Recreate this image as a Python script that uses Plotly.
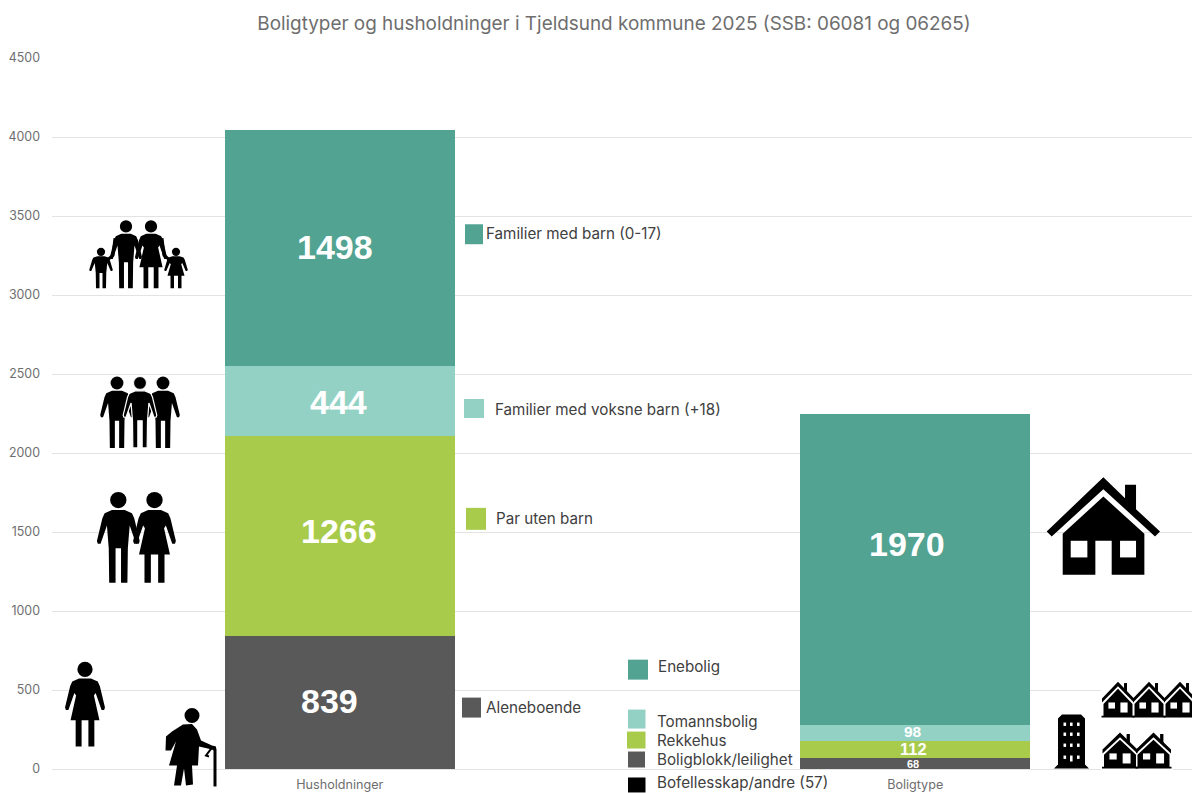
import plotly.graph_objects as go

# ---- data ----
stack_categories = ["Husholdninger", "Boligtype"]
household_names = ["Aleneboende", "Par uten barn", "Familier med voksne barn (+18)", "Familier med barn (0-17)"]
household_values = [839, 1266, 444, 1498]
housing_names = ["Boligblokk/leilighet", "Rekkehus", "Tomannsbolig", "Enebolig"]
housing_values = [68, 112, 98, 1970]
segment_colors = ["#595959", "#A9CB4C", "#93D1C5", "#52A392"]
other_label = "Bofellesskap/andre (57)"
title_text = "Boligtyper og husholdninger i Tjeldsund kommune 2025 (SSB: 06081 og 06265)"

W, H = 1192, 793
L, R, T, B = 52, 0, 57.5, 23.5
FONT = "Inter"
GREY = "#6E6E6E"
TXT = "#404040"

def px(x): return (x - L) / (W - L - R)
def py(y): return (H - B - y) / (H - T - B)

shapes = []
annos = []

def poly(pts, fill="black", line=None, lw=0, close=True):
    d = "M " + " L ".join(f"{px(x):.5f},{py(y):.5f}" for x, y in pts) + (" Z" if close else "")
    shapes.append(dict(type="path", xref="paper", yref="paper", path=d, layer="above",
                       fillcolor=fill if close else "rgba(0,0,0,0)",
                       line=dict(color=line or fill, width=lw)))

def rect(x0, y0, x1, y1, fill="black"):
    shapes.append(dict(type="rect", xref="paper", yref="paper", layer="above",
                       x0=px(x0), x1=px(x1), y0=py(y1), y1=py(y0), fillcolor=fill, line=dict(width=0)))

def circle(cx, cy, r, fill="black", outline=None):
    shapes.append(dict(type="circle", xref="paper", yref="paper", layer="above",
                       x0=px(cx - r), x1=px(cx + r), y0=py(cy + r), y1=py(cy - r), fillcolor=fill,
                       line=dict(width=1 if outline else 0, color=outline or fill)))

MAN = [(-.07, .2), (.07, .2), (.15, .235), (.175, .29), (.235, .54), (.225, .57), (.195, .57), (.125, .37),
       (.105, .62), (.10, 1), (.03, 1), (.03, .62), (-.03, .62), (-.03, 1), (-.10, 1), (-.105, .62),
       (-.125, .37), (-.195, .57), (-.225, .57), (-.235, .54), (-.175, .29), (-.15, .235)]
WOMAN = [(-.07, .2), (.07, .2), (.15, .235), (.175, .29), (.235, .54), (.225, .57), (.195, .57), (.125, .37),
         (.105, .40), (.17, .69), (.11, .69), (.11, 1), (.04, 1), (.04, .69), (-.04, .69), (-.04, 1), (-.11, 1),
         (-.11, .69), (-.17, .69), (-.105, .40), (-.125, .37), (-.195, .57), (-.225, .57), (-.235, .54),
         (-.175, .29), (-.15, .235)]

def person(kind, cx, top, h, outline=None, wx=1.0):
    pts = [(cx + a * h * wx, top + b * h) for a, b in (MAN if kind == "m" else WOMAN)]
    poly(pts, line=outline, lw=1.2 if outline else 0)
    circle(cx, top + .09 * h, .09 * h * 1.15 if wx > 1 else .09 * h, outline=outline)

HOUSE_ROOF = [(50, 215), (220, 52), (285, 115), (285, 75), (318, 75), (318, 148), (390, 215), (375, 230), (220, 88), (65, 230)]
HOUSE_BODY = [(220, 110), (343, 222), (343, 345), (245, 345), (245, 243), (196, 243), (196, 345), (98, 345), (98, 222)]
WINDOWS = [(122, 243, 172, 293), (270, 243, 318, 293)]

def house(x0, y0, sx, sy):
    f = lambda a, b: (x0 + (a - 50) * sx, y0 + (b - 52) * sy)
    poly([f(a, b) for a, b in HOUSE_ROOF])
    poly([f(a, b) for a, b in HOUSE_BODY])
    for a, b, c, d in WINDOWS:
        p, q = f(a, b), f(c, d)
        rect(p[0], p[1], q[0], q[1], "white")

def terrace_unit(x0, w, top, h):
    """small attached house: heavy roof, chimney, filled body, little window and door"""
    c = x0 + w / 2
    poly([(x0 - 1, top + .47 * h), (c, top), (x0 + w + 1, top + .47 * h), (x0 + w + 1, top + .58 * h),
          (c, top + .13 * h), (x0 - 1, top + .58 * h)])
    rect(x0 + .70 * w, top + .04 * h, x0 + .80 * w, top + .3 * h)
    poly([(c, top + .2 * h), (x0 + w - .5, top + .62 * h), (x0 + w - .5, top + .97 * h), (x0 + .5, top + .97 * h),
          (x0 + .5, top + .62 * h)])
    rect(x0 - 1.5, top + .95 * h, x0 + w + 1.5, top + h)
    rect(x0 + .18 * w, top + .58 * h, x0 + .40 * w, top + .75 * h, "white")
    rect(x0 + .58 * w, top + .58 * h, x0 + .82 * w, top + .86 * h, "white")

# ---- icons ----
# family
person("m", 126, 220, 68); person("w", 151, 220, 68)
person("m", 101, 248, 40, wx=1.25); person("w", 176, 248, 40, wx=1.25)
poly([(115, 238), (113, 255), (105, 262)], close=False, lw=3)
poly([(162, 238), (164, 255), (172, 262)], close=False, lw=3)
# three adults
person("m", 117, 376.5, 71.5); person("m", 163, 376.5, 71.5)
person("m", 140, 376.5, 71.5, outline="white")
# couple
person("m", 118.3, 492, 91); person("w", 154.5, 492, 91)
# single woman
person("w", 85, 662, 85)
# elderly woman
circle(192, 716, 7.5)
poly([(183, 725), (192, 724.5), (197, 730), (201, 741), (212, 746), (216, 747), (216, 752), (212, 750), (199, 747),
      (198, 766), (192, 766), (193, 785), (186, 786), (184, 769), (181, 786), (174, 786), (177, 766), (169, 766),
      (176, 742), (171, 751), (165.5, 751), (166, 737), (172, 732)])
poly([(215, 749), (215, 787)], close=False, lw=3)
poly([(212, 748), (206, 756), (209, 757)], close=False, lw=2)
# big house
house(1046.7, 477.3, 1 / 3, 1 / 3)
# terraced houses
rect(1101, 681, 1192, 719, "white")
for x0 in (1103, 1134, 1165):
    terrace_unit(x0, 30, 682, 36)
rect(1101, 733, 1173, 771, "white")
for x0 in (1103.5, 1137):
    terrace_unit(x0, 33, 733, 36)
# apartment block
poly([(1058, 719), (1062, 715), (1081, 715), (1085, 719), (1085, 765), (1089, 769), (1054, 769), (1058, 765)])
for row, yy in enumerate((723, 733, 744, 756)):
    for xx in (1063.5, 1070, 1077):
        rect(xx, yy, xx + 2.6, yy + 6 if (row == 3 and xx == 1070) else yy + 3.4, "white")

# ---- legend-like swatches and labels ----
def label(text, x, y, size=15.2, color=TXT):
    annos.append(dict(text=text, xref="paper", yref="paper", x=px(x - 2), y=py(y), xanchor="left", yanchor="middle",
                      showarrow=False, font=dict(family=FONT, size=size, color=color)))

hh_swatch = [(462, 698, 481, 718), (466, 508, 486, 530), (464, 399, 484, 418), (465, 224, 483, 244)]
hh_text = [(486, 708), (496, 519), (495, 409), (486, 233)]
for i, n in enumerate(household_names):
    rect(*hh_swatch[i], segment_colors[i])
    label(n, *hh_text[i])

ho_swatch = [(628, 752, 645, 768), (627, 732, 645.5, 749), (628, 710, 645.5, 729), (628, 660, 648, 680)]
ho_text = [(657, 760), (657, 741), (657, 722), (658, 667)]
for i, n in enumerate(housing_names):
    rect(*ho_swatch[i], segment_colors[i])
    label(n, *ho_text[i])
rect(628, 778, 645.5, 793, "black")
label(other_label, 657, 783.5)

# ---- bars ----
fig = go.Figure()
for cat, names, vals in ((stack_categories[0], household_names, household_values),
                         (stack_categories[1], housing_names, housing_values)):
    for n, v, c in zip(names, vals, segment_colors):
        fig.add_trace(go.Bar(x=[cat], y=[v], name=n, marker=dict(color=c, line=dict(width=0)),
                             showlegend=False, hoverinfo="x+y+name"))

# value labels
def value_labels(cat, vals, sizes, xshifts, yshifts):
    base = 0
    for v, s, xs, ys in zip(vals, sizes, xshifts, yshifts):
        annos.append(dict(text=f"<b>{v}</b>", x=cat, y=base + v / 2, xref="x", yref="y", showarrow=False,
                          xshift=xs, yshift=ys, font=dict(family="Liberation Sans", size=s, color="white")))
        base += v

value_labels(stack_categories[0], household_values, [34, 34, 34, 34], [-10, -1, -1, -5], [2, 5, -1, 1])
value_labels(stack_categories[1], housing_values, [11, 16.5, 15.5, 34], [-2, -2, -2, -8], [0, 0, 1, 25])

fig.update_layout(
    width=W, height=H, margin=dict(l=L, r=R, t=T, b=B, pad=0), autosize=False,
    paper_bgcolor="white", plot_bgcolor="white", barmode="stack", bargap=0.6, showlegend=False,
    title=dict(text=title_text, x=614 / W, xref="container", xanchor="center", y=1 - 23 / H, yanchor="middle",
               font=dict(family=FONT, size=18.9, color=GREY)),
    xaxis=dict(type="category", categoryorder="array", categoryarray=stack_categories, range=[-0.5, 1.481],
               showgrid=False, showline=False, ticks="", ticklabelstandoff=6, automargin=False,
               tickfont=dict(family=FONT, size=12.6, color=GREY)),
    yaxis=dict(range=[0, 4500], dtick=500, tick0=0, showgrid=True, gridcolor="#E3E3E3", gridwidth=1.4,
               zeroline=True, zerolinecolor="#E3E3E3", zerolinewidth=1.4, showline=False, ticks="",
               ticklabelstandoff=11, automargin=False, tickfont=dict(family=FONT, size=12.4, color=GREY)),
    shapes=shapes, annotations=annos,
)
fig.write_html("out.html", config=dict(displayModeBar=False),
               post_script="document.body.style.margin='0';document.body.style.overflow='hidden';")
